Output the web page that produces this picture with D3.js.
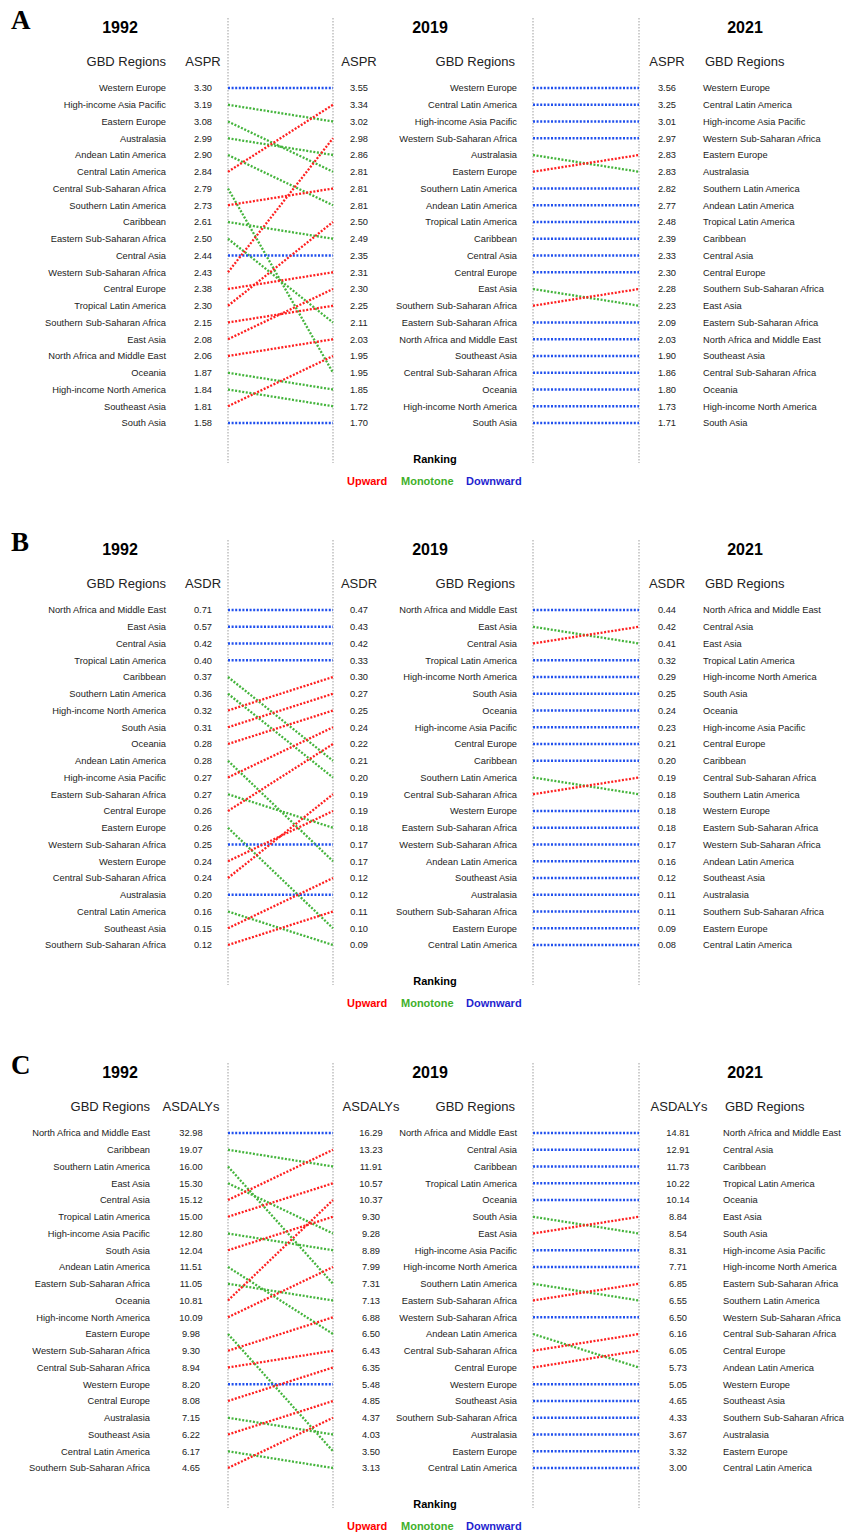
<!DOCTYPE html>
<html lang="en">
<head>
<meta charset="utf-8">
<title>GBD Regions Ranking</title>
<script src="https://cdn.jsdelivr.net/npm/d3@7"></script>
<style>
  body { margin: 0; background: #fff; }
  text { font-family: "Liberation Sans", Arial, sans-serif; fill: #222; }
  .name, .val { font-size: 9.3px; }
  .head { font-size: 13px; }
  .year { font-size: 16px; font-weight: bold; fill: #000; }
  .letter { font-family: "Liberation Serif", "Times New Roman", serif; font-size: 27px; font-weight: bold; fill: #000; }
  .rank { font-size: 11px; font-weight: bold; fill: #000; }
  .legend { font-size: 11px; font-weight: bold; }
  .guide { stroke: #b4b4b4; stroke-width: 1.3; stroke-dasharray: 1.5,1.5; }
  .link { fill: none; stroke-width: 2.3; stroke-dasharray: 2,1.6; }
</style>
</head>
<body>
<script>
var w = 844, h = 1533;

// A - ASPR
var asprRegions1992 = ["Western Europe","High-income Asia Pacific","Eastern Europe","Australasia","Andean Latin America","Central Latin America","Central Sub-Saharan Africa","Southern Latin America","Caribbean","Eastern Sub-Saharan Africa","Central Asia","Western Sub-Saharan Africa","Central Europe","Tropical Latin America","Southern Sub-Saharan Africa","East Asia","North Africa and Middle East","Oceania","High-income North America","Southeast Asia","South Asia"];
var asprValues1992 = ["3.30","3.19","3.08","2.99","2.90","2.84","2.79","2.73","2.61","2.50","2.44","2.43","2.38","2.30","2.15","2.08","2.06","1.87","1.84","1.81","1.58"];
var asprRegions2019 = ["Western Europe","Central Latin America","High-income Asia Pacific","Western Sub-Saharan Africa","Australasia","Eastern Europe","Southern Latin America","Andean Latin America","Tropical Latin America","Caribbean","Central Asia","Central Europe","East Asia","Southern Sub-Saharan Africa","Eastern Sub-Saharan Africa","North Africa and Middle East","Southeast Asia","Central Sub-Saharan Africa","Oceania","High-income North America","South Asia"];
var asprValues2019 = ["3.55","3.34","3.02","2.98","2.86","2.81","2.81","2.81","2.50","2.49","2.35","2.31","2.30","2.25","2.11","2.03","1.95","1.95","1.85","1.72","1.70"];
var asprRegions2021 = ["Western Europe","Central Latin America","High-income Asia Pacific","Western Sub-Saharan Africa","Eastern Europe","Australasia","Southern Latin America","Andean Latin America","Tropical Latin America","Caribbean","Central Asia","Central Europe","Southern Sub-Saharan Africa","East Asia","Eastern Sub-Saharan Africa","North Africa and Middle East","Southeast Asia","Central Sub-Saharan Africa","Oceania","High-income North America","South Asia"];
var asprValues2021 = ["3.56","3.25","3.01","2.97","2.83","2.83","2.82","2.77","2.48","2.39","2.33","2.30","2.28","2.23","2.09","2.03","1.90","1.86","1.80","1.73","1.71"];

// B - ASDR
var asdrRegions1992 = ["North Africa and Middle East","East Asia","Central Asia","Tropical Latin America","Caribbean","Southern Latin America","High-income North America","South Asia","Oceania","Andean Latin America","High-income Asia Pacific","Eastern Sub-Saharan Africa","Central Europe","Eastern Europe","Western Sub-Saharan Africa","Western Europe","Central Sub-Saharan Africa","Australasia","Central Latin America","Southeast Asia","Southern Sub-Saharan Africa"];
var asdrValues1992 = ["0.71","0.57","0.42","0.40","0.37","0.36","0.32","0.31","0.28","0.28","0.27","0.27","0.26","0.26","0.25","0.24","0.24","0.20","0.16","0.15","0.12"];
var asdrRegions2019 = ["North Africa and Middle East","East Asia","Central Asia","Tropical Latin America","High-income North America","South Asia","Oceania","High-income Asia Pacific","Central Europe","Caribbean","Southern Latin America","Central Sub-Saharan Africa","Western Europe","Eastern Sub-Saharan Africa","Western Sub-Saharan Africa","Andean Latin America","Southeast Asia","Australasia","Southern Sub-Saharan Africa","Eastern Europe","Central Latin America"];
var asdrValues2019 = ["0.47","0.43","0.42","0.33","0.30","0.27","0.25","0.24","0.22","0.21","0.20","0.19","0.19","0.18","0.17","0.17","0.12","0.12","0.11","0.10","0.09"];
var asdrRegions2021 = ["North Africa and Middle East","Central Asia","East Asia","Tropical Latin America","High-income North America","South Asia","Oceania","High-income Asia Pacific","Central Europe","Caribbean","Central Sub-Saharan Africa","Southern Latin America","Western Europe","Eastern Sub-Saharan Africa","Western Sub-Saharan Africa","Andean Latin America","Southeast Asia","Australasia","Southern Sub-Saharan Africa","Eastern Europe","Central Latin America"];
var asdrValues2021 = ["0.44","0.42","0.41","0.32","0.29","0.25","0.24","0.23","0.21","0.20","0.19","0.18","0.18","0.18","0.17","0.16","0.12","0.11","0.11","0.09","0.08"];

// C - ASDALYs
var dalyRegions1992 = ["North Africa and Middle East","Caribbean","Southern Latin America","East Asia","Central Asia","Tropical Latin America","High-income Asia Pacific","South Asia","Andean Latin America","Eastern Sub-Saharan Africa","Oceania","High-income North America","Eastern Europe","Western Sub-Saharan Africa","Central Sub-Saharan Africa","Western Europe","Central Europe","Australasia","Southeast Asia","Central Latin America","Southern Sub-Saharan Africa"];
var dalyValues1992 = ["32.98","19.07","16.00","15.30","15.12","15.00","12.80","12.04","11.51","11.05","10.81","10.09","9.98","9.30","8.94","8.20","8.08","7.15","6.22","6.17","4.65"];
var dalyRegions2019 = ["North Africa and Middle East","Central Asia","Caribbean","Tropical Latin America","Oceania","South Asia","East Asia","High-income Asia Pacific","High-income North America","Southern Latin America","Eastern Sub-Saharan Africa","Western Sub-Saharan Africa","Andean Latin America","Central Sub-Saharan Africa","Central Europe","Western Europe","Southeast Asia","Southern Sub-Saharan Africa","Australasia","Eastern Europe","Central Latin America"];
var dalyValues2019 = ["16.29","13.23","11.91","10.57","10.37","9.30","9.28","8.89","7.99","7.31","7.13","6.88","6.50","6.43","6.35","5.48","4.85","4.37","4.03","3.50","3.13"];
var dalyRegions2021 = ["North Africa and Middle East","Central Asia","Caribbean","Tropical Latin America","Oceania","East Asia","South Asia","High-income Asia Pacific","High-income North America","Eastern Sub-Saharan Africa","Southern Latin America","Western Sub-Saharan Africa","Central Sub-Saharan Africa","Central Europe","Andean Latin America","Western Europe","Southeast Asia","Southern Sub-Saharan Africa","Australasia","Eastern Europe","Central Latin America"];
var dalyValues2021 = ["14.81","12.91","11.73","10.22","10.14","8.84","8.54","8.31","7.71","6.85","6.55","6.50","6.16","6.05","5.73","5.05","4.65","4.33","3.67","3.32","3.00"];

var years = ["1992", "2019", "2021"];
var legendLabels = ["Upward", "Monotone", "Downward"];

var lineColor = { up: "#ff1f1f", down: "#44b43c", same: "#2050ee" };
var legendColor = ["#ff0000", "#3fb02a", "#1f1fcf"];

// layout of each panel (positions only)
var panels = [
  { letter: "A", measure: "ASPR", top: 0,
    regions: [asprRegions1992, asprRegions2019, asprRegions2021],
    values: [asprValues1992, asprValues2019, asprValues2021],
    nameL: 166, valL: 203, valM: 359, nameM: 517, valR: 667, nameR: 703, hNameM: 515, hValR: 667, hNameR: 705 },
  { letter: "B", measure: "ASDR", top: 522,
    regions: [asdrRegions1992, asdrRegions2019, asdrRegions2021],
    values: [asdrValues1992, asdrValues2019, asdrValues2021],
    nameL: 166, valL: 203, valM: 359, nameM: 517, valR: 667, nameR: 703, hNameM: 515, hValR: 667, hNameR: 705 },
  { letter: "C", measure: "ASDALYs", top: 1045,
    regions: [dalyRegions1992, dalyRegions2019, dalyRegions2021],
    values: [dalyValues1992, dalyValues2019, dalyValues2021],
    nameL: 150, valL: 191, valM: 371, nameM: 517, valR: 678, nameR: 723, hNameM: 515, hValR: 679, hNameR: 725 }
];

var linkX = [[228, 333], [533, 639]];

var svg = d3.select("body")
        .append("svg")
        .attr("width", w)
        .attr("height", h);

var y = d3.scalePoint()
        .domain(d3.range(21))
        .range([88, 423]);

panels.forEach(function(p) {
    var g = svg.append("g").attr("transform", "translate(0," + p.top + ")");

    g.append("text").attr("class", "letter").attr("x", 11).attr("y", 29).text(p.letter);

    // year titles
    g.selectAll("text.year")
        .data(years)
        .enter()
        .append("text")
        .attr("class", "year")
        .attr("x", function(d, i) { return [120, 430, 745][i]; })
        .attr("y", 27)
        .attr("dy", "0.35em")
        .attr("text-anchor", "middle")
        .text(function(d) { return d; });

    // dotted guide lines
    [linkX[0][0], linkX[0][1], linkX[1][0], linkX[1][1]].forEach(function(x) {
        g.append("line").attr("class", "guide")
            .attr("x1", x).attr("x2", x).attr("y1", 18).attr("y2", 463);
    });

    // column headers
    var heads = [
        { t: "GBD Regions", x: p.nameL, a: "end" },
        { t: p.measure, x: p.valL, a: "middle" },
        { t: p.measure, x: p.valM, a: "middle" },
        { t: "GBD Regions", x: p.hNameM, a: "end" },
        { t: p.measure, x: p.hValR, a: "middle" },
        { t: "GBD Regions", x: p.hNameR, a: "start" }
    ];
    g.selectAll("text.head")
        .data(heads)
        .enter()
        .append("text")
        .attr("class", "head")
        .attr("x", function(d) { return d.x; })
        .attr("y", 61)
        .attr("dy", "0.35em")
        .attr("text-anchor", function(d) { return d.a; })
        .text(function(d) { return d.t; });

    // text columns
    var cols = [
        { data: p.regions[0], x: p.nameL, a: "end", c: "name" },
        { data: p.values[0], x: p.valL, a: "middle", c: "val" },
        { data: p.values[1], x: p.valM, a: "middle", c: "val" },
        { data: p.regions[1], x: p.nameM, a: "end", c: "name" },
        { data: p.values[2], x: p.valR, a: "middle", c: "val" },
        { data: p.regions[2], x: p.nameR, a: "start", c: "name" }
    ];
    cols.forEach(function(col) {
        g.append("g").selectAll("text")
            .data(col.data)
            .enter()
            .append("text")
            .attr("class", col.c)
            .attr("x", col.x)
            .attr("y", function(d, i) { return y(i); })
            .attr("dy", "0.35em")
            .attr("text-anchor", col.a)
            .text(function(d) { return d; });
    });

    // rank links
    [0, 1].forEach(function(k) {
        var from = p.regions[k], to = p.regions[k + 1];
        g.append("g").selectAll("line")
            .data(from)
            .enter()
            .append("line")
            .attr("class", "link")
            .attr("x1", linkX[k][0])
            .attr("x2", linkX[k][1])
            .attr("y1", function(d, i) { return y(i); })
            .attr("y2", function(d) { return y(to.indexOf(d)); })
            .attr("stroke", function(d, i) {
                var j = to.indexOf(d);
                return j < i ? lineColor.up : (j > i ? lineColor.down : lineColor.same);
            });
    });

    g.append("text").attr("class", "rank")
        .attr("x", 435).attr("y", 459).attr("dy", "0.35em")
        .attr("text-anchor", "middle").text("Ranking");

    g.selectAll("text.legend")
        .data(legendLabels)
        .enter()
        .append("text")
        .attr("class", "legend")
        .attr("x", function(d, i) { return [347, 401, 466][i]; })
        .attr("y", 481)
        .attr("dy", "0.35em")
        .style("fill", function(d, i) { return legendColor[i]; })
        .text(function(d) { return d; });
});
</script>
</body>
</html>
